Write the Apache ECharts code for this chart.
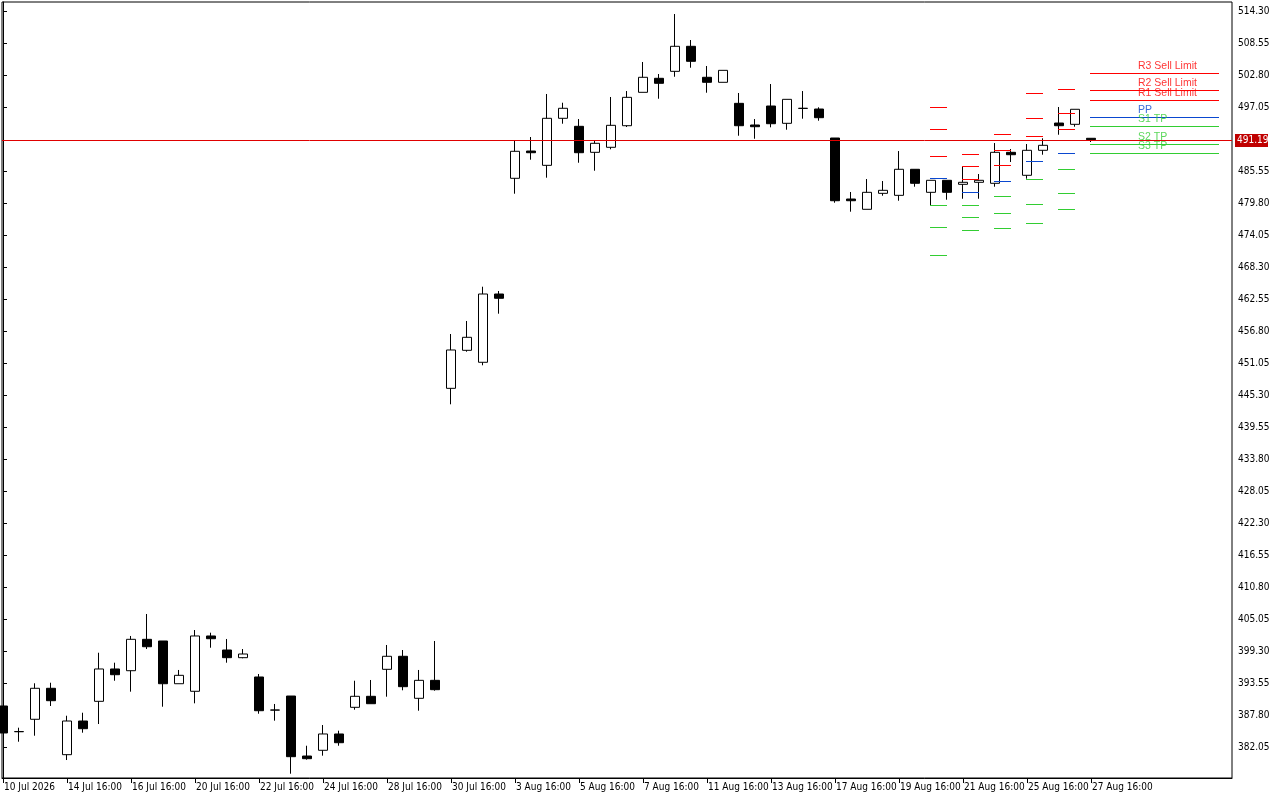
<!DOCTYPE html>
<html><head><meta charset="utf-8">
<script src="https://cdn.jsdelivr.net/npm/echarts@6.0.0/dist/echarts.min.js"></script>
<style>html,body{margin:0;padding:0;background:#fff}#c{width:1280px;height:800px}</style>
</head><body><div id="c"></div>
<script>
// ---- data ----
const tradingDays = ['10 Jul','13 Jul','14 Jul','15 Jul','16 Jul','17 Jul','20 Jul','21 Jul','22 Jul','23 Jul','24 Jul',
  '27 Jul','28 Jul','29 Jul','30 Jul','31 Jul','3 Aug','4 Aug','5 Aug','6 Aug','7 Aug','10 Aug','11 Aug','12 Aug','13 Aug','14 Aug',
  '17 Aug','18 Aug','19 Aug','20 Aug','21 Aug','24 Aug','25 Aug','26 Aug','27 Aug'];
const sessionHours = ['16:00','20:00'];
const yearLabel = '2026';

const opens = [389.42,384.82,387.03,392.60,380.67,386.72,390.26,396.07,395.76,401.40,
  401.10,393.42,392.06,402.00,399.48,398.10,394.63,388.70,391.21,380.43,
  381.46,384.39,389.18,391.16,396.01,398.35,390.80,394.03,446.50,453.33,
  451.18,463.45,484.24,489.14,486.57,495.02,493.58,488.91,489.81,493.69,
  499.69,502.21,503.46,507.96,502.39,501.49,497.71,493.82,497.23,494.12,
  496.82,496.69,491.48,480.52,478.67,481.54,481.18,485.86,481.72,483.88,
  483.16,483.52,483.34,488.91,484.78,489.27,494.17,493.94,491.43];
const closes = [384.57,384.80,392.60,390.37,386.72,385.34,396.07,395.04,401.40,400.07,
  393.42,394.93,402.00,401.51,398.10,398.76,388.57,388.68,380.31,379.95,
  384.39,382.82,391.16,389.83,398.35,392.89,394.03,392.35,453.39,455.67,
  463.45,462.68,489.09,488.84,495.02,496.82,488.84,490.53,493.76,498.79,
  502.39,501.31,507.96,505.26,501.49,503.64,493.69,493.51,494.05,498.43,
  496.80,495.13,480.21,480.21,481.72,482.08,485.86,483.34,483.88,481.72,
  483.52,483.88,488.91,488.48,489.27,490.17,493.69,496.64,491.19];
const lows = [384.57,383.00,384.08,389.42,379.71,384.62,386.18,393.96,391.99,399.66,
  389.29,393.42,389.90,399.89,397.20,397.99,388.03,386.78,377.25,379.77,
  380.49,382.28,388.75,389.83,391.09,392.24,388.57,392.17,443.63,453.08,
  450.64,459.91,481.47,487.58,484.35,494.05,487.04,485.60,489.45,493.46,
  499.69,498.54,502.49,504.11,499.62,501.49,491.89,491.35,493.40,492.97,
  494.95,494.59,479.85,478.24,478.67,481.11,480.21,482.73,479.44,480.39,
  480.57,480.57,482.73,487.17,484.17,488.48,492.07,493.51,490.76];
const highs = [389.42,385.52,393.50,393.60,387.67,388.21,398.99,397.20,402.00,405.95,
  401.10,395.89,403.07,402.59,401.46,399.66,395.17,389.78,391.21,382.28,
  386.00,384.98,393.96,394.09,400.38,399.48,395.89,401.10,456.26,458.60,
  464.76,463.99,491.07,491.66,499.39,497.82,494.89,491.12,498.85,499.92,
  505.14,502.98,513.76,509.09,504.42,503.64,499.57,494.89,501.18,498.43,
  499.92,497.00,491.48,481.78,484.11,483.75,489.14,485.86,483.88,483.88,
  486.32,485.01,490.58,489.50,490.40,491.43,497.05,496.64,491.43];
const lastPrice = 491.19;

// daily pivot levels (drawn over the bars of each day)
const pivotDays = ['20 Aug','21 Aug','24 Aug','25 Aug','26 Aug','27 Aug'];
const pivotNames = ['R3 Sell Limit','R2 Sell Limit','R1 Sell Limit','PP','S1 TP','S2 TP','S3 TP'];
const r3 = [497.05,488.60,492.20,499.57,500.28,503.11];
const r2 = [493.10,486.45,489.32,495.07,495.97,500.05];
const r1 = [488.25,484.11,486.63,491.84,493.10,498.25];
const pp = [484.29,481.78,483.75,487.35,488.78,495.20];
const s1 = [479.44,479.44,481.06,484.11,485.91,493.58];
const s2 = [475.49,477.28,478.00,479.62,481.60,490.35];
const s3 = [470.46,474.95,475.31,476.21,478.72,488.73];
const lastPivotExtendBars = 8;
const pivotLabelBar = 71;

const yTickLabels = ['514.30','508.55','502.80','497.05','485.55','479.80','474.05','468.30','462.55','456.80',
  '451.05','445.30','439.55','433.80','428.05','422.30','416.55','410.80','405.05','399.30','393.55','387.80','382.05'];
const xLabelEvery = 4;

// ---- build ----
const candleTimes = [];
tradingDays.forEach(d => sessionHours.forEach(h => candleTimes.push(d + ' ' + h)));
const nBars = opens.length;
const candleData = opens.map((o, i) => [i, o, closes[i], lows[i], highs[i]]);
const xTicks = [];
for (let i = 0; i < nBars; i += xLabelEvery) xTicks.push(i);
function xLabel(i) {
  const t = candleTimes[i];
  if (i === 0) return t.split(' ').slice(0, 2).join(' ') + ' ' + yearLabel;
  return t;
}
const FONT = "'DejaVu Sans Condensed','Liberation Sans',sans-serif";
const RED = '#ff0000', BLUE = '#0a48d0', GREEN = '#32cd32';
const levelArrays = [r3, r2, r1, pp, s1, s2, s3];
const levelColors = [RED, RED, RED, BLUE, GREEN, GREEN, GREEN];

function dayRange(day, k) {
  const first = candleTimes.indexOf(day + ' ' + sessionHours[0]);
  let last = first + sessionHours.length - 1;
  if (k === pivotDays.length - 1) last = first + lastPivotExtendBars;
  return [first, last];
}
const pivotData = [];
levelArrays.forEach((arr, li) => {
  arr.forEach((v, k) => {
    const [a, b] = dayRange(pivotDays[k], k);
    pivotData.push([a, b, v, li]);
  });
});
const crisp = y => Math.round(y) + 0.5;

const pivotSeries = {
  type: 'custom', data: pivotData, encode: { x: [0, 1], y: 2 }, silent: true, z: 5, animation: false,
  renderItem: (params, api) => {
    const a = api.coord([api.value(0), api.value(2)]);
    const b = api.coord([api.value(1), api.value(2)]);
    const y = crisp(a[1]);
    return {
      type: 'line',
      shape: { x1: Math.round(a[0]) - 1, y1: y, x2: Math.round(b[0]), y2: y },
      style: { stroke: levelColors[api.value(3)], lineWidth: 1 }
    };
  }
};
const priceSeries = {
  type: 'custom', data: [[0, lastPrice]], encode: { x: 0, y: 1 }, silent: true, z: 7, animation: false, clip: false,
  renderItem: (params, api) => {
    const cs = params.coordSys;
    const y = crisp(api.coord([0, api.value(1)])[1]);
    const right = cs.x + cs.width;
    return {
      type: 'group',
      children: [
        { type: 'line', shape: { x1: cs.x, y1: y, x2: right, y2: y }, style: { stroke: '#e00000', lineWidth: 1 } },
        { type: 'rect', shape: { x: right + 3, y: Math.round(y) - 7, width: 33, height: 13 }, style: { fill: '#c00000' } },
        { type: 'text', x: right + 5, y: Math.round(y) - 0.5,
          style: { text: lastPrice.toFixed(2), fill: '#fff', font: "10px " + FONT, verticalAlign: 'middle', align: 'left' } }
      ]
    };
  }
};
const labelSeries = {
  type: 'scatter', symbolSize: 0, silent: true, z: 6, animation: false,
  data: levelArrays.map((arr, li) => ({
    value: [pivotLabelBar, arr[arr.length - 1]],
    label: { color: levelColors[li] },
    name: pivotNames[li]
  })),
  label: {
    show: true, position: [-1, -7.5], align: 'left', verticalAlign: 'middle',
    fontFamily: "'Liberation Sans',Arial,sans-serif", fontSize: 10.5,
    formatter: p => p.name
  }
};

const chart = echarts.init(document.getElementById('c'), null, { renderer: 'canvas' });
chart.setOption({
  animation: false,
  backgroundColor: '#fff',
  grid: { left: 2, right: 48, top: 2, bottom: 22, show: true, borderColor: '#000', borderWidth: 1 },
  xAxis: {
    type: 'value', min: -0.0625, max: 76.8125,
    axisLine: { show: true, lineStyle: { color: '#000', width: 1 } },
    axisTick: { show: true, customValues: xTicks, length: 5, lineStyle: { color: '#000' } },
    axisLabel: {
      show: true, customValues: xTicks, formatter: v => xLabel(Math.round(v)),
      align: 'left', margin: 4, color: '#000', fontSize: 10, fontFamily: FONT, padding: [0, 0, 0, 1]
    },
    splitLine: { show: false }
  },
  yAxis: {
    type: 'value', position: 'right', min: 376.48, max: 515.92, scale: true,
    axisLine: { show: true, lineStyle: { color: '#000', width: 1 } },
    axisTick: { show: true, customValues: yTickLabels.map(Number), length: 4, lineStyle: { color: '#000' } },
    axisLabel: {
      show: true, customValues: yTickLabels.map(Number), formatter: v => v.toFixed(2),
      margin: 6, color: '#000', fontSize: 10, fontFamily: FONT
    },
    splitLine: { show: false }
  },
  series: [
    {
      type: 'candlestick', data: candleData, encode: { x: 0, y: [1, 2, 3, 4] },
      barWidth: 9, clip: true, z: 3,
      itemStyle: { color: '#fff', color0: '#000', borderColor: '#000', borderColor0: '#000', borderWidth: 1 }
    },
    pivotSeries,
    priceSeries,
    labelSeries
  ]
});
</script>
</body></html>
